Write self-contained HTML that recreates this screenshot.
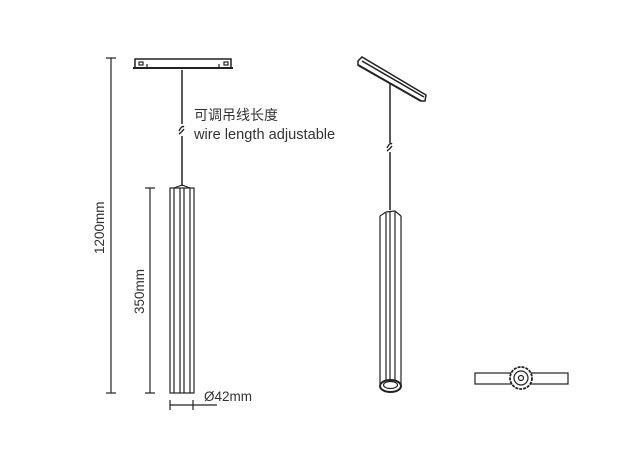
<!DOCTYPE html>
<html><head><meta charset="utf-8"><style>
html,body{margin:0;padding:0;background:#fff;width:620px;height:458px;overflow:hidden}
svg{display:block}
text{font-family:"Liberation Sans","Noto Sans CJK SC",sans-serif;fill:#333}
</style></head><body>
<svg width="620" height="458" viewBox="0 0 620 458" xmlns="http://www.w3.org/2000/svg">
<g stroke="#222" fill="none" stroke-width="1.2">
<!-- 1200 dim -->
<line x1="111" y1="58" x2="111" y2="393"/>
<line x1="106" y1="58" x2="116" y2="58"/>
<line x1="106" y1="393" x2="116" y2="393"/>
<!-- 350 dim -->
<line x1="150" y1="188" x2="150" y2="393"/>
<line x1="145" y1="188" x2="155" y2="188"/>
<line x1="145" y1="393" x2="155" y2="393"/>
<!-- track left -->
<rect x="135" y="59" width="96" height="9" stroke-width="1.5"/>
<line x1="133" y1="68" x2="233" y2="68" stroke-width="2"/>
<rect x="139" y="62" width="4" height="3"/>
<rect x="224" y="62" width="4" height="3"/>
<line x1="147" y1="64" x2="147" y2="68"/><line x1="219" y1="64" x2="219" y2="68"/>
<!-- wire left -->
<line x1="182" y1="70" x2="182" y2="124" stroke-width="1.5"/>
<line x1="182" y1="136" x2="182" y2="186" stroke-width="1.5"/>
<path d="M179 131 q3 -6 5 -4 M179 134 q3 -2 5 -5" stroke-width="1.4"/>
<!-- pendant left -->
<path d="M174 188 L182 185 L190 188"/>
<rect x="170" y="188" width="24" height="205"/>
<line x1="174" y1="188" x2="174" y2="393"/>
<line x1="180" y1="188" x2="180" y2="393"/>
<line x1="184" y1="188" x2="184" y2="393"/>
<line x1="190" y1="188" x2="190" y2="393"/>
<!-- Ø dim -->
<line x1="170" y1="405" x2="217" y2="405"/>
<line x1="170" y1="400" x2="170" y2="410"/>
<line x1="193" y1="400" x2="193" y2="410"/>
<!-- right track -->
<g stroke-width="1.5">
<path d="M358 61 L362 57 L426 95 L425 101 L421 101 L358 65 Z"/>
<line x1="362" y1="61" x2="424" y2="97"/>
<line x1="358" y1="65" x2="421" y2="101" stroke-width="2"/>
</g>
<!-- right wire -->
<line x1="390" y1="84" x2="390" y2="143" stroke-width="1.5"/>
<line x1="390" y1="152" x2="390" y2="210" stroke-width="1.5"/>
<path d="M387 148 q3 -6 5 -4 M387 151 q3 -2 5 -5" stroke-width="1.4"/>
<!-- right pendant -->
<path d="M380 216 L386 212 L395 211 L401 216"/>
<line x1="380" y1="216" x2="380" y2="384"/>
<line x1="401" y1="216" x2="401" y2="384"/>
<line x1="386" y1="213" x2="386" y2="380"/>
<line x1="390" y1="211" x2="390" y2="380"/>
<line x1="395" y1="212" x2="395" y2="380"/>
<ellipse cx="390.5" cy="386" rx="10.5" ry="6" stroke-width="2"/>
<ellipse cx="390.5" cy="385" rx="7" ry="3.5"/>
<!-- bottom view -->
<rect x="475" y="373" width="93" height="11"/>
<circle cx="521" cy="378" r="11" fill="#fff" stroke-width="1.8" stroke-dasharray="3 1"/>
<circle cx="521" cy="378" r="7"/>
<circle cx="521" cy="378" r="2.5"/>
</g>
<text x="194" y="120" font-size="14">可调吊线长度</text>
<text x="194" y="139" font-size="14.6">wire length adjustable</text>
<text x="204" y="401" font-size="13.5">Ø42mm</text>
<text transform="translate(104 254) rotate(-90)" font-size="13.5">1200mm</text>
<text transform="translate(144 314) rotate(-90)" font-size="13.5">350mm</text>
</svg>
</body></html>
